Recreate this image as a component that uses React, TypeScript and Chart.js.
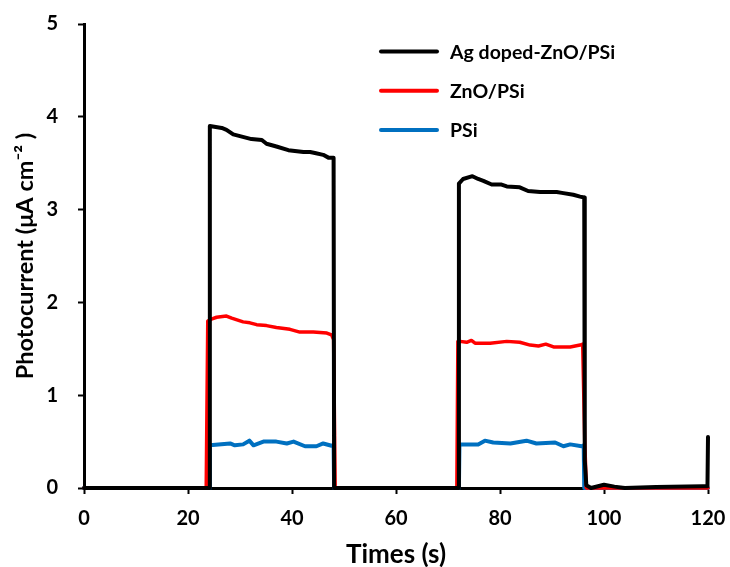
import { useEffect, useRef } from "react";
import { Chart, registerables } from "chart.js";

Chart.register(...registerables);

// ---- data ----
const seriesLabels = ["Ag doped-ZnO/PSi", "ZnO/PSi", "PSi"];
const seriesColors = ["#000000", "#ff0000", "#0070c0"];

const xTicks = [0, 20, 40, 60, 80, 100, 120];
const yTicks = [0, 1, 2, 3, 4, 5];

const agTime = [
  0, 24.1, 24.2, 26.5, 27.4, 28.7, 32.2, 34.2, 35.1, 37.0, 39.3, 42.2, 43.5, 44.4, 46.0, 47.0, 48.0, 48.1,
  72.0, 72.1, 72.9, 74.7, 75.8, 76.8, 78.4, 80.3, 81.3, 83.8, 85.4, 87.7, 90.9, 91.9, 94.1, 95.4, 96.2,
  96.3, 96.6, 97.5, 100.0, 102.0, 104.0, 110.0, 119.0, 119.9, 120,
];
const agValues = [
  0, 0, 3.9, 3.88, 3.86, 3.81, 3.76, 3.75, 3.71, 3.68, 3.64, 3.62, 3.62, 3.61, 3.59, 3.56, 3.56, 0,
  0, 3.28, 3.33, 3.36, 3.33, 3.31, 3.27, 3.27, 3.25, 3.24, 3.2, 3.19, 3.19, 3.18, 3.16, 3.14, 3.13,
  0.3, 0.03, 0.0, 0.035, 0.015, 0.0, 0.01, 0.02, 0.02, 0.55,
];

const znoTime = [
  0, 23.5, 23.8, 24.5, 25.5, 27.4, 28.4, 30.6, 31.9, 33.2, 35.1, 37.0, 39.6, 41.5, 44.1, 46.7, 47.6, 48.0, 48.3,
  71.7, 71.9, 72.3, 73.6, 74.5, 75.2, 78.1, 81.3, 83.8, 85.8, 87.4, 88.8, 90.3, 93.5, 95.4, 95.9, 96.3, 96.6, 120,
];
const znoValues = [
  0, 0, 1.8, 1.82, 1.84, 1.853, 1.83, 1.79, 1.78, 1.76, 1.75, 1.73, 1.71, 1.68, 1.68, 1.67, 1.65, 1.6, 0,
  0, 1.58, 1.58, 1.57, 1.59, 1.56, 1.56, 1.58, 1.57, 1.54, 1.53, 1.55, 1.52, 1.52, 1.54, 1.55, 0.5, 0, 0,
];

const psiTime = [
  0, 24.1, 24.2, 28.1, 29.0, 30.6, 31.8, 32.6, 34.5, 37.0, 39.0, 40.3, 42.5, 44.7, 46.0, 47.6, 48.0, 48.1,
  72.1, 72.2, 75.8, 77.1, 78.7, 82.0, 85.1, 87.0, 90.6, 92.2, 93.5, 95.7, 96.1, 96.2, 120,
];
const psiValues = [
  0, 0, 0.46, 0.48, 0.46, 0.47, 0.51, 0.46, 0.5, 0.5, 0.48, 0.5, 0.45, 0.45, 0.48, 0.455, 0.46, 0,
  0, 0.47, 0.47, 0.51, 0.49, 0.48, 0.51, 0.48, 0.49, 0.45, 0.47, 0.45, 0.46, 0, 0,
];

const zip = (t: number[], v: number[]) => t.map((x, i) => ({ x, y: v[i] }));

const FONT = "Lato";

const insideLegend = {
  id: "insideLegend",
  afterDraw(chart: any) {
    const { ctx, chartArea } = chart;
    chart.data.datasets.forEach((ds: any, i: number) => {
      const y = chartArea.top + 27.5 + i * 39.3;
      const x0 = chartArea.left + 297;
      ctx.save();
      ctx.strokeStyle = ds.borderColor;
      ctx.lineWidth = 4;
      ctx.lineCap = "round";
      ctx.beginPath();
      ctx.moveTo(x0, y);
      ctx.lineTo(x0 + 56, y);
      ctx.stroke();
      ctx.fillStyle = "#000";
      ctx.font = `bold 19.5px ${FONT}`;
      ctx.textBaseline = "middle";
      ctx.textAlign = "left";
      ctx.fillText(ds.label, x0 + 69, y + 1);
      ctx.restore();
    });
  },
};

export default function App() {
  const ref = useRef<HTMLCanvasElement | null>(null);

  useEffect(() => {
    if (!ref.current) return;
    const series = [
      zip(agTime, agValues),
      zip(znoTime, znoValues),
      zip(psiTime, psiValues),
    ];
    const chart = new Chart(ref.current, {
      type: "line",
      data: {
        datasets: series.map((d, i) => ({
          label: seriesLabels[i],
          data: d,
          borderColor: seriesColors[i],
          backgroundColor: seriesColors[i],
          borderWidth: i === 1 ? 3.5 : 4,
          pointRadius: 0,
          tension: 0,
          borderJoinStyle: "round" as const,
          borderCapStyle: "round" as const,
          clip: 6,
        })),
      },
      options: {
        animation: false,
        responsive: false,
        devicePixelRatio: 1,
        parsing: false as any,
        layout: { padding: { left: 0, top: 24, right: 22, bottom: 0 } },
        plugins: {
          legend: { display: false },
          tooltip: { enabled: false },
        },
        scales: {
          x: {
            type: "linear",
            min: 0,
            max: 120,
            afterBuildTicks: (s: any) => {
              s.ticks = xTicks.map((v) => ({ value: v }));
            },
            afterFit: (s: any) => {
              s.height = 79;
              s.paddingLeft = 0;
              s.paddingRight = 0;
            },
            ticks: {
              color: "#000",
              padding: 13,
              font: { family: FONT, size: 20, weight: "bold" },
            },
            grid: {
              display: true,
              drawOnChartArea: false,
              drawTicks: true,
              tickLength: 6,
              tickWidth: 2,
              tickColor: "#000",
            },
            border: { display: true, color: "#000", width: 3 },
            title: {
              display: true,
              text: "Times (s)",
              color: "#000",
              font: { family: FONT, size: 26, weight: "bold" },
              padding: { top: 0, bottom: -3 },
            },
          },
          y: {
            type: "linear",
            min: 0,
            max: 5,
            afterBuildTicks: (s: any) => {
              s.ticks = yTicks.map((v) => ({ value: v }));
            },
            afterFit: (s: any) => {
              s.width = 84;
              s.paddingTop = 0;
              s.paddingBottom = 0;
            },
            ticks: {
              color: "#000",
              padding: 20,
              font: { family: FONT, size: 20, weight: "bold" },
            },
            grid: {
              display: true,
              drawOnChartArea: false,
              drawTicks: true,
              tickLength: 6,
              tickWidth: 2,
              tickColor: "#000",
            },
            border: { display: true, color: "#000", width: 3 },
            title: {
              display: true,
              text: "Photocurrent (μA cm⁻² )",
              color: "#000",
              font: { family: FONT, size: 23.5, weight: "bold" },
              padding: { top: 11, bottom: 0 },
            },
          },
        },
      },
      plugins: [insideLegend],
    });
    return () => chart.destroy();
  }, []);

  return (
    <div style={{ position: "fixed", left: 0, top: 0, width: 730, height: 567, background: "#fff" }}>
      <canvas ref={ref} width={730} height={567} style={{ display: "block" }} />
    </div>
  );
}
